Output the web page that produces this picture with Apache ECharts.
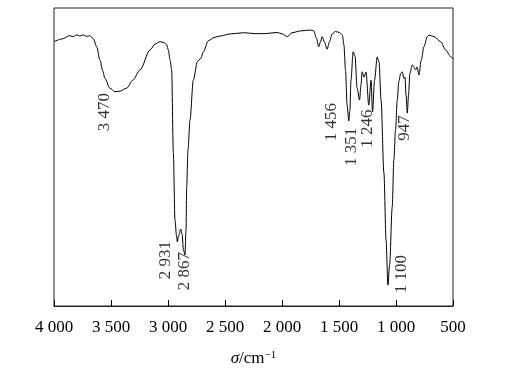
<!DOCTYPE html>
<html>
<head>
<meta charset="utf-8">
<script src="https://cdn.jsdelivr.net/npm/echarts@6/dist/echarts.min.js"></script>
<style>
html,body{margin:0;padding:0;background:#fff;}
#chart{width:523px;height:379px;}
</style>
</head>
<body>
<div id="chart"></div>
<script>
// Wavenumber (cm^-1) and transmittance (%)
var wavenumbers = [4000,3932,3862,3830,3800,3774,3745,3715,3686,3657,3624,3598,3572,3554,3510,3466,3422,3363,3308,3246,3158,3114,3070,3035,3011,2997,2982,2968,2953,2939,2925,2918,2908,2888,2877,2864,2851,2842,2836,2825,2807,2778,2742,2712,2690,2646,2596,2543,2455,2338,2235,2147,2044,1997,1953,1912,1839,1751,1722,1698,1678,1663,1648,1628,1604,1584,1560,1531,1496,1470,1457,1443,1429,1414,1404,1395,1376,1360,1341,1320,1307,1297,1281,1263,1239,1219,1206,1188,1165,1149,1131,1106,1087,1071,1056,1033,1019,1004,989,975,960,945,931,921,912,901,890,878,857,843,828,815,799,778,755,725,711,667,608,564,520,500];
var transmittance = [88.7,89.6,90.7,90.4,91.0,90.6,91.0,90.5,90.7,89.8,86.9,82.6,78.9,76.4,73.1,71.9,72.1,73.1,75.8,79.2,85.9,87.9,88.7,88.4,87.6,85.9,82.6,79.2,51.3,28.9,23.5,21.5,23.5,25.8,24.2,18.8,17.1,25.5,40.0,52.3,62.4,75.8,82.0,83.1,85.3,89.0,90.1,90.6,91.3,91.7,91.4,91.4,91.8,91.3,90.4,91.7,92.3,92.6,92.3,89.9,87.0,88.6,90.4,88.6,86.2,88.6,91.3,92.1,91.8,90.9,87.6,79.2,67.4,62.1,65.8,75.8,85.3,83.9,73.2,69.1,74.2,78.6,76.8,78.5,67.4,75.8,65.1,75.8,83.6,81.9,69.1,44.6,22.1,7.0,13.8,33.3,49.0,59.1,69.1,75.3,77.9,78.6,76.4,76.8,70.8,64.7,70.8,78.1,80.9,80.2,79.2,80.2,77.5,82.6,87.0,90.4,90.9,90.4,88.7,85.9,83.7,82.9];

// Peak annotations: text, label centre (wavenumber, transmittance)
var peakTexts = ['3 470','2 931','2 867','1 456','1 351','1 246','947','1 100'];
var peakLabelX = [3554,3026,2859,1566,1391,1250,924,951];
var peakLabelY = [65.1,15.4,11.7,61.7,53.4,59.5,59.7,10.7];

var xTickValues = [4000,3500,3000,2500,2000,1500,1000,500];
var xTickLabels = ['4 000','3 500','3 000','2 500','2 000','1 500','1 000','500'];

var lineData = wavenumbers.map(function(w,i){return [w, transmittance[i]];});
var labelData = peakTexts.map(function(t,i){return {value:[peakLabelX[i], peakLabelY[i]], name:t};});

var chart = echarts.init(document.getElementById('chart'), null, {renderer:'canvas'});
var serif = 'Liberation Serif, Times New Roman, serif';
chart.setOption({
  animation:false,
  backgroundColor:'#fff',
  grid:{left:54,right:70,top:8,bottom:73,show:true,borderColor:'#222',borderWidth:1,backgroundColor:'transparent'},
  xAxis:{
    type:'value', inverse:true, min:500, max:4000, interval:500,
    axisLine:{show:true,lineStyle:{color:'#222',width:1}},
    axisTick:{show:true,inside:true,length:6,lineStyle:{color:'#000',width:1}},
    splitLine:{show:false},
    axisLabel:{
      margin:13, color:'#000', fontFamily:serif, fontSize:17,
      formatter:function(v){var i=xTickValues.indexOf(v);return i>=0?xTickLabels[i]:'';}
    },
    name:'{i|σ}/cm{s|−1}', nameLocation:'middle', nameGap:44,
    nameTextStyle:{color:'#000',fontFamily:serif,fontSize:17,
      rich:{i:{fontStyle:'italic',fontFamily:serif,fontSize:17,color:'#000'},
            s:{fontFamily:serif,fontSize:11,color:'#000',verticalAlign:'top',padding:[0,0,6,0]}}}
  },
  yAxis:{
    type:'value', min:0, max:100,
    axisLine:{show:false}, axisTick:{show:false}, axisLabel:{show:false}, splitLine:{show:false}
  },
  series:[
    {type:'line', data:lineData, showSymbol:false, symbol:'none', smooth:0.3, smoothMonotone:'x',
     lineStyle:{color:'#000',width:1}, z:3},
    {type:'scatter', data:labelData, symbolSize:0, z:4,
     label:{show:true, position:'inside', rotate:90, color:'#000', fontFamily:serif, fontSize:17,
       formatter:function(p){return p.name;}}}
  ]
});
</script>
</body>
</html>
